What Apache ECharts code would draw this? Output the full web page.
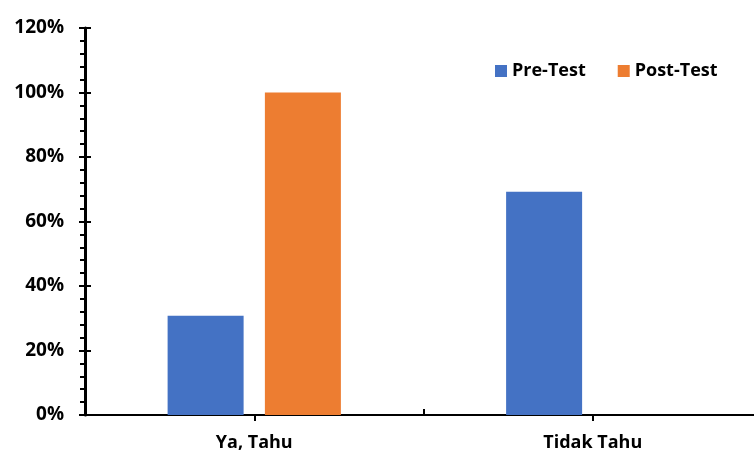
<!DOCTYPE html>
<html>
<head>
<meta charset="utf-8">
<script src="https://cdn.jsdelivr.net/npm/echarts@6/dist/echarts.min.js"></script>
<style>
  html, body { margin: 0; padding: 0; background: #fff; overflow: hidden; }
  #chart { width: 762px; height: 453px; }
</style>
</head>
<body>
<div id="chart"></div>
<script>
// Categories and values (share of respondents, in %)
const categories = ['Ya, Tahu', 'Tidak Tahu'];
const preTest = [30.77, 69.23];
const postTest = [100, 0];
const seriesNames = ['Pre-Test', 'Post-Test'];

const FONT = '"Open Sans", "Noto Sans", sans-serif';
const chart = echarts.init(document.getElementById('chart'), null, { renderer: 'canvas' });

const yBase = {
  type: 'value',
  min: 0,
  max: 120,
  interval: 20,
  position: 'left',
  splitLine: { show: false }
};

chart.setOption({
  animation: false,
  backgroundColor: '#fff',
  grid: { left: 85, top: 28, right: 0, height: 387, containLabel: false },
  legend: {
    data: seriesNames,
    left: 490,
    top: 57,
    itemWidth: 12,
    itemHeight: 12,
    itemGap: 32,
    icon: 'rect',
    textStyle: { fontFamily: FONT, fontWeight: 'bold', fontSize: 18, color: '#000' }
  },
  xAxis: [
    {
      type: 'category',
      data: categories,
      axisLine: { lineStyle: { color: '#000', width: 2 } },
      axisTick: { show: true, inside: true, length: 6, lineStyle: { color: '#000', width: 2 } },
      axisLabel: { fontFamily: FONT, fontWeight: 'bold', fontSize: 18, color: '#000', margin: 19 }
    },
    {
      // downward ticks at each category centre
      type: 'category',
      data: categories,
      position: 'bottom',
      axisLine: { show: true, onZero: false, lineStyle: { color: '#000', width: 2 } },
      axisTick: { show: true, alignWithLabel: true, length: 6, lineStyle: { color: '#000', width: 2 } },
      axisLabel: { show: false }
    }
  ],
  yAxis: [
    Object.assign({}, yBase, {
      axisLine: { show: true, lineStyle: { color: '#000', width: 3 } },
      axisTick: { show: true, length: 6, lineStyle: { color: '#000', width: 2 } },
      minorTick: { show: true, splitNumber: 5, length: 5, lineStyle: { color: '#000', width: 2 } },
      axisLabel: {
        fontFamily: FONT, fontWeight: 'bold', fontSize: 19, color: '#000', margin: 21,
        formatter: v => v + '%'
      }
    }),
    Object.assign({}, yBase, {
      axisLine: { show: false },
      axisTick: { show: true, inside: true, length: 6, lineStyle: { color: '#000', width: 2 } },
      axisLabel: { show: false }
    })
  ],
  series: [
    {
      name: seriesNames[0],
      type: 'bar',
      data: preTest,
      barWidth: 76,
      barGap: '28%',
      itemStyle: { color: '#4472C4' }
    },
    {
      name: seriesNames[1],
      type: 'bar',
      data: postTest,
      barWidth: 76,
      barGap: '28%',
      itemStyle: { color: '#ED7D31' }
    }
  ]
});
</script>
</body>
</html>
